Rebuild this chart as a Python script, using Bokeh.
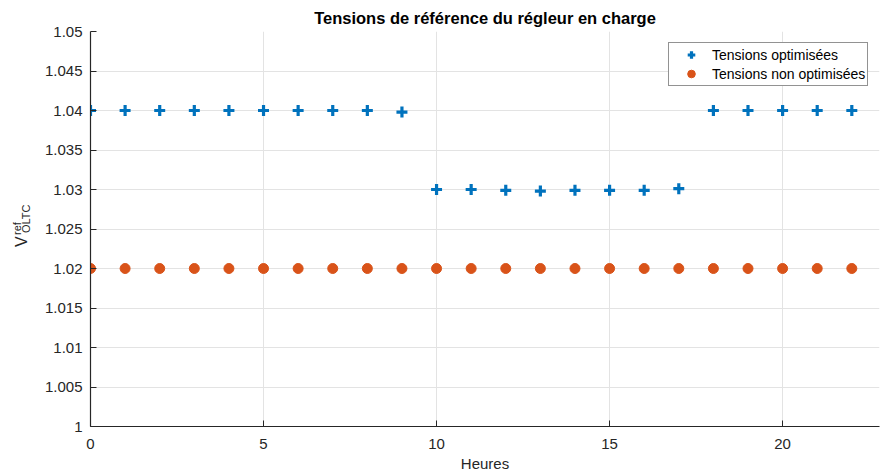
from bokeh.plotting import figure
from bokeh.models import FixedTicker, Range1d, Legend, LegendItem, Div
from bokeh.layouts import row
from bokeh.embed import file_html
from bokeh.resources import INLINE

hours = [0, 1, 2, 3, 4, 5, 6, 7, 8, 9, 10, 11, 12, 13, 14, 15, 16, 17, 18, 19, 20, 21, 22]
v_opt = [1.04, 1.04, 1.04, 1.04, 1.04, 1.04, 1.04, 1.04, 1.04, 1.0398,
         1.03, 1.03, 1.0299, 1.0298, 1.0299, 1.0299, 1.0299, 1.0301,
         1.04, 1.04, 1.04, 1.04, 1.04]
v_nonopt = [1.02, 1.02, 1.02, 1.02, 1.02, 1.02, 1.02, 1.02, 1.02, 1.02, 1.02, 1.02,
            1.02, 1.02, 1.02, 1.02, 1.02, 1.02, 1.02, 1.02, 1.02, 1.02, 1.02]
y_ticks = [1.0, 1.005, 1.01, 1.015, 1.02, 1.025, 1.03, 1.035, 1.04, 1.045, 1.05]
y_tick_labels = ["1", "1.005", "1.01", "1.015", "1.02", "1.025", "1.03", "1.035", "1.04", "1.045", "1.05"]
x_ticks = [0, 5, 10, 15, 20]

TXT = "#262626"
FONT = "Liberation Sans"

p = figure(width=840, height=474, output_backend="svg", toolbar_location=None,
           x_range=Range1d(0, 22.8), y_range=Range1d(1.0, 1.05),
           min_border_left=50, min_border_right=1, min_border_top=31, min_border_bottom=47)

p.title.text = "Tensions de référence du régleur en charge"
p.title.align = "center"
p.title.offset = -20
p.title.text_font = FONT
p.title.text_font_size = "16.5px"
p.title.text_font_style = "bold"
p.title.text_color = "#000000"
p.title.standoff = 10

p.outline_line_color = None
p.background_fill_color = "white"
p.border_fill_color = "white"

for ax in (p.xaxis[0], p.yaxis[0]):
    ax.axis_line_color = TXT
    ax.axis_line_width = 1.2
    ax.major_tick_line_color = TXT
    ax.major_tick_in = 6
    ax.major_tick_out = 0
    ax.minor_tick_line_color = None
    ax.major_label_text_font = FONT
    ax.major_label_text_font_size = "15px"
    ax.major_label_text_color = TXT
    ax.axis_label_text_font = FONT
    ax.axis_label_text_font_size = "15px"
    ax.axis_label_text_font_style = "normal"
    ax.axis_label_text_color = TXT

p.xaxis.ticker = FixedTicker(ticks=x_ticks)
p.yaxis.ticker = FixedTicker(ticks=y_ticks)
p.yaxis.major_label_overrides = {t: l for t, l in zip(y_ticks, y_tick_labels)}
p.xaxis.axis_label = "Heures"
p.xaxis.major_label_standoff = 12
p.xaxis.axis_label_standoff = 3
p.yaxis.major_label_standoff = 8

p.xgrid.grid_line_color = "#e3e3e3"
p.ygrid.grid_line_color = "#e3e3e3"
p.xgrid.ticker = FixedTicker(ticks=x_ticks)
p.ygrid.ticker = FixedTicker(ticks=y_ticks)

r1 = p.scatter(hours, v_opt, marker="cross", size=11, line_width=3.2, color="#0072BD")
r2 = p.scatter(hours, v_nonopt, marker="circle", size=10, color="#D95319", line_color="#D95319")

legend = Legend(items=[LegendItem(label="Tensions optimisées", renderers=[r1]),
                       LegendItem(label="Tensions non optimisées", renderers=[r2])],
                location=(578, 340))
legend.border_line_color = TXT
legend.border_line_width = 1
legend.background_fill_alpha = 1
legend.label_text_font = FONT
legend.label_text_font_size = "14px"
legend.label_text_color = "#000000"
legend.padding = 2
legend.margin = 0
legend.spacing = 0
legend.glyph_width = 40
legend.glyph_height = 19
legend.label_height = 19
legend.label_standoff = 1
p.add_layout(legend, "center")

# y-axis label V^{ref}_{OLTC}, written as rotated HTML text beside the figure
span_style = ("position:absolute;transform-origin:0 0;transform:rotate(-90deg);"
              "line-height:1;white-space:nowrap;")
ylabel_html = (
    '<div style="position:relative;width:40px;height:474px;'
    "font-family:'Liberation Sans';color:#262626;\">"
    f'<span style="{span_style}left:14px;top:247px;font-size:16px;">V</span>'
    f'<span style="{span_style}left:12px;top:235px;font-size:11px;">ref</span>'
    f'<span style="{span_style}left:21px;top:233px;font-size:11px;">OLTC</span>'
    '</div>'
)
ylabel = Div(text=ylabel_html, width=40, height=474, margin=0)

layout = row(ylabel, p, spacing=0)

open("out.html", "w").write(file_html(layout, INLINE))
